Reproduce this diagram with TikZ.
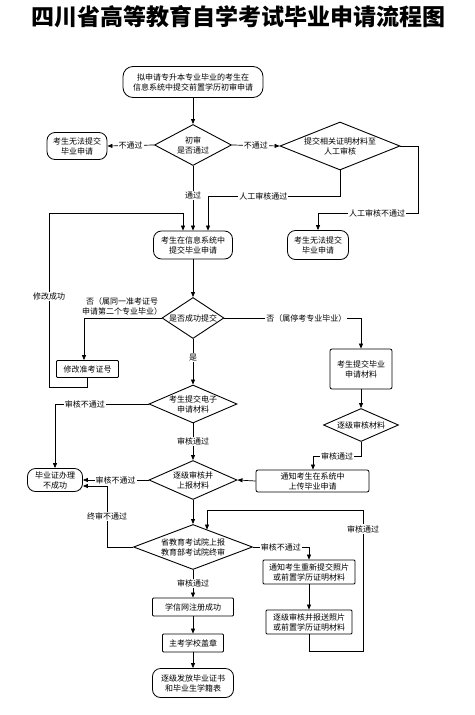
\documentclass[tikz,border=0pt]{standalone}
\usepackage{fontspec}
\setmainfont{Noto Sans CJK SC}
\usetikzlibrary{shapes.geometric,arrows.meta,calc}
\begin{document}
\begin{tikzpicture}[x=1pt,y=-1pt,
  every node/.style={font=\fontsize{8}{10}\selectfont, align=center, inner sep=0pt},
  pill/.style={draw, line width=0.8pt, rounded corners=8pt},
  box/.style={draw, line width=0.8pt, rounded corners=1pt},
  dia/.style={draw, diamond, line width=0.9pt},
  lbl/.style={fill=white, inner sep=1pt},
  arr/.style={line width=0.7pt, -{Triangle[length=5pt,width=4pt]}},
]
\useasboundingbox (0,0) rectangle (474,715);

\node[font=\fontsize{23}{23}\selectfont\bfseries] (title) at (238,17) {四川省高等教育自学考试毕业申请流程图};

% nodes
\node[pill, rounded corners=10pt, minimum width=140pt, minimum height=31pt] (start) at (193,82) {拟申请专升本专业毕业的考生在\\信息系统中提交前置学历初审申请};
\node[dia, minimum width=77pt, minimum height=41pt, label={center:初审\\是否通过}] (d1) at (193,145) {};
\node[pill, minimum width=60pt, minimum height=27pt] (fail1) at (77,146) {考生无法提交\\毕业申请};
\node[dia, minimum width=120pt, minimum height=48pt, label={center:提交相关证明材料至\\人工审核}] (d2) at (340,146) {};
\node[pill, minimum width=79pt, minimum height=28pt] (submit) at (193,245) {考生在信息系统中\\提交毕业申请};
\node[pill, minimum width=61pt, minimum height=29pt] (fail2) at (318,245) {考生无法提交\\毕业申请};
\node[dia, minimum width=62pt, minimum height=41pt, label={center:是否成功提交}] (d3) at (193,318) {};
\node[box, minimum width=62pt, minimum height=17pt] (modify) at (87.5,369) {修改准考证号};
\node[box, rounded corners=2pt, minimum width=62pt, minimum height=40pt] (mat) at (361,369) {考生提交毕业\\申请材料};
\node[dia, minimum width=88pt, minimum height=38pt, label={center:考生提交电子\\申请材料}] (d4) at (193,404) {};
\node[dia, minimum width=75pt, minimum height=33pt, label={center:逐级审核材料}] (d6) at (361,425) {};
\node[dia, minimum width=88pt, minimum height=39pt, label={center:逐级审核并\\上报材料}] (d5) at (193,480) {};
\node[pill, minimum width=55pt, minimum height=23pt] (fail3) at (55,480) {毕业证办理\\不成功};
\node[box, rounded corners=2pt, minimum width=113pt, minimum height=22pt] (notify) at (312.5,481) {通知考生在系统中\\上传毕业申请};
\node[dia, minimum width=119pt, minimum height=45pt, label={center:省教育考试院上报\\教育部考试院终审}] (d7) at (193,547) {};
\node[box, minimum width=92pt, minimum height=24pt] (notify2) at (309,572) {通知考生重新提交照片\\或前置学历证明材料};
\node[box, minimum width=86pt, minimum height=24pt] (resend) at (309,622) {逐级审核并报送照片\\或前置学历证明材料};
\node[box, minimum width=81pt, minimum height=18pt] (xuexin) at (193,607) {学信网注册成功};
\node[box, minimum width=61pt, minimum height=18pt] (stamp) at (193,643) {主考学校盖章};
\node[pill, minimum width=81pt, minimum height=29pt] (end) at (193,683) {逐级发放毕业证书\\和毕业生学籍表};

% coordinates
\coordinate (c5a) at (340,196);
\coordinate (c5b) at (208,196);
\coordinate (c6a) at (418,146);
\coordinate (c6b) at (418,213);
\coordinate (c6c) at (318,213);
\coordinate (c7b) at (49,387);
\coordinate (c7c) at (49,213);
\coordinate (c7d) at (183,213);
\coordinate (c9) at (84,318);
\coordinate (c15a) at (361,456);
\coordinate (c15b) at (313,456);
\coordinate (c18a) at (107,547);
\coordinate (c18b) at (107,486);
\coordinate (c22a) at (309,651);
\coordinate (c22b) at (363,651);
\coordinate (c22c) at (363,510);
\coordinate (c22d) at (207,510);

% connectors
\draw[arr] (start) -- (d1);
\draw[arr] (d1.west) -- node[lbl]{不通过} (fail1.east);
\draw[arr] (d1.east) -- node[lbl]{不通过} (d2.west);
\draw[arr] (d1.south) -- node[lbl, pos=0.46]{通过} (submit.north);
\draw[arr] (d2.south) -- (c5a) -- node[lbl, pos=0.58]{人工审核通过} (c5b) -- (c5b |- submit.north);
\draw[arr] (d2.east) -- (c6a) -- (c6b) -- node[lbl, pos=0.41]{人工审核不通过} (c6c) -- (fail2.north);
\draw[arr] (modify.south) -- (modify.south |- c7b) -- (c7b) -- node[lbl, pos=0.52]{修改成功} (c7c) -- (c7d) -- (c7d |- submit.north);
\draw[arr] (submit) -- (d3);
\draw[arr] (d3.west) -- node[above=2pt, pos=0.51]{否（属同一准考证号\\申请第二个专业毕业）} (c9) -- (c9 |- modify.north);
\draw[arr] (d3.east) -- node[lbl, pos=0.6]{否（属停考专业毕业）} (mat.north |- d3.east) -- (mat.north);
\draw[arr] (d3) -- node[lbl, pos=0.4]{是} (d4);
\draw[arr] (d4.west) -- node[lbl, pos=0.68]{审核不通过} (fail3.north |- d4.west) -- (fail3.north);
\draw[arr] (d4) -- node[lbl]{审核通过} (d5);
\draw[arr] (mat) -- (d6);
\draw[arr] (d6.south) -- (c15a) -- node[lbl]{审核通过} (c15b) -- (c15b |- notify.north);
\draw[arr] (notify.west) -- (d5.east);
\draw[arr] (d5.west) -- node[lbl]{审核不通过} (fail3.east);
\draw[arr] (d7.west) -- (c18a) -- node[lbl]{终审不通过} (c18b) -- (c18b -| fail3.east);
\draw[arr] (d5) -- (d7);
\draw[arr] (d7.east) -- node[lbl]{审核不通过} (notify2.north |- d7.east) -- (notify2.north);
\draw[arr] (notify2) -- (resend);
\draw[arr] (resend.south) -- (c22a) -- (c22b) -- node[lbl, pos=0.865]{审核通过} (c22c) -- (c22d) -- (c22d |- d7.50);
\draw[arr] (d7) -- node[lbl]{审核通过} (xuexin);
\draw[arr] (xuexin) -- (stamp);
\draw[arr] (stamp) -- (end);
\end{tikzpicture}
\end{document}
